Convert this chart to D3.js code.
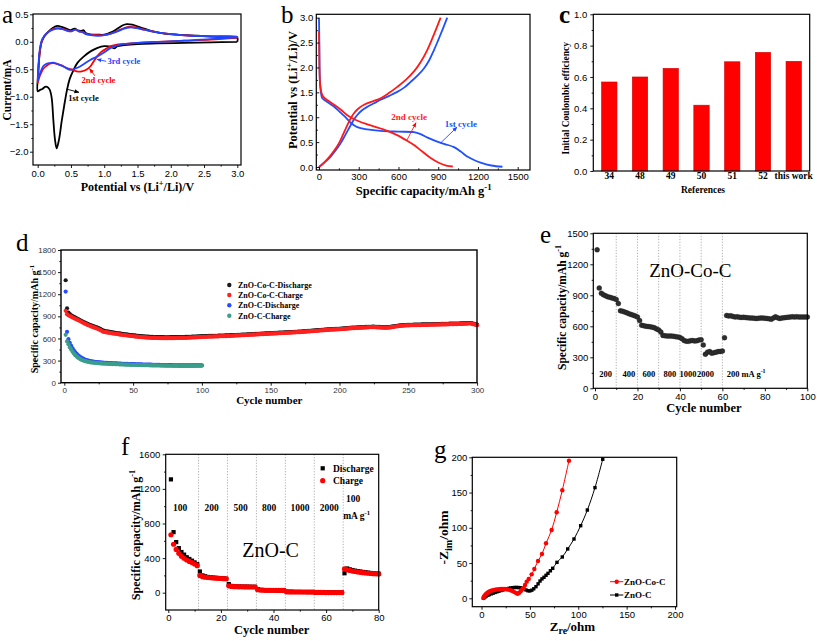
<!DOCTYPE html>
<html><head><meta charset="utf-8">
<script src="https://cdn.jsdelivr.net/npm/d3@7"></script>
<style>body{margin:0;background:#fff}svg{display:block}</style>
</head><body>
<script>
// ---------------- DATA ----------------
// (a) CV curves: [potential V, current mA]
const cvCycle1 = [[3.0,0.0],[2.6,-0.01],[2.2,-0.02],[1.8,-0.03],[1.5,-0.04],[1.3,-0.06],[1.2,-0.08],[1.15,-0.12],[1.1,-0.09],[1.0,-0.08],[0.9,-0.11],[0.8,-0.17],[0.69,-0.27],[0.6,-0.38],[0.54,-0.51],[0.48,-0.68],[0.44,-0.88],[0.4,-1.15],[0.36,-1.45],[0.32,-1.78],[0.285,-1.94],[0.26,-1.78],[0.235,-1.42],[0.21,-1.02],[0.18,-0.87],[0.14,-0.82],[0.11,-0.82],[0.07,-0.86],[0.03,-0.88],[0.0,-0.9],[0.01,-0.55],[0.03,-0.2],[0.06,0.0],[0.1,0.1],[0.15,0.17],[0.2,0.23],[0.25,0.27],[0.3,0.29],[0.36,0.27],[0.43,0.24],[0.49,0.21],[0.53,0.23],[0.56,0.24],[0.6,0.21],[0.65,0.2],[0.69,0.21],[0.72,0.16],[0.8,0.13],[0.9,0.13],[1.0,0.13],[1.1,0.17],[1.2,0.24],[1.28,0.3],[1.34,0.32],[1.42,0.31],[1.55,0.26],[1.7,0.2],[1.9,0.15],[2.1,0.13],[2.4,0.11],[2.7,0.09],[3.0,0.07],[3.0,0.0]];
const cvCycle2 = [[3.0,0.07],[2.6,0.04],[2.2,0.02],[1.8,0.0],[1.5,-0.02],[1.3,-0.04],[1.19,-0.05],[1.1,-0.08],[1.04,-0.12],[0.96,-0.18],[0.89,-0.27],[0.84,-0.36],[0.79,-0.45],[0.73,-0.51],[0.66,-0.54],[0.59,-0.54],[0.52,-0.51],[0.44,-0.48],[0.36,-0.43],[0.29,-0.4],[0.23,-0.39],[0.18,-0.4],[0.13,-0.44],[0.085,-0.49],[0.05,-0.57],[0.02,-0.66],[0.0,-0.75],[0.01,-0.5],[0.03,-0.2],[0.06,0.0],[0.1,0.1],[0.16,0.18],[0.23,0.23],[0.3,0.25],[0.36,0.24],[0.44,0.21],[0.5,0.19],[0.54,0.21],[0.57,0.22],[0.62,0.19],[0.68,0.18],[0.72,0.15],[0.8,0.13],[0.9,0.12],[1.0,0.12],[1.1,0.15],[1.2,0.2],[1.3,0.25],[1.38,0.27],[1.48,0.26],[1.6,0.22],[1.8,0.17],[2.0,0.14],[2.3,0.11],[2.6,0.1],[3.0,0.08],[3.0,0.07]];
const cvCycle3 = [[3.0,0.08],[2.6,0.05],[2.2,0.02],[1.8,0.0],[1.5,-0.02],[1.3,-0.04],[1.19,-0.07],[1.1,-0.11],[0.99,-0.2],[0.89,-0.27],[0.79,-0.33],[0.7,-0.4],[0.636,-0.45],[0.56,-0.49],[0.49,-0.51],[0.43,-0.48],[0.385,-0.45],[0.31,-0.41],[0.235,-0.38],[0.17,-0.39],[0.12,-0.41],[0.085,-0.44],[0.05,-0.53],[0.02,-0.63],[0.0,-0.72],[0.01,-0.45],[0.03,-0.15],[0.06,0.02],[0.1,0.11],[0.16,0.18],[0.23,0.22],[0.3,0.24],[0.37,0.23],[0.44,0.2],[0.5,0.19],[0.54,0.21],[0.57,0.22],[0.62,0.19],[0.68,0.17],[0.72,0.14],[0.8,0.12],[0.9,0.11],[1.0,0.12],[1.1,0.15],[1.2,0.19],[1.3,0.24],[1.38,0.26],[1.48,0.25],[1.6,0.22],[1.8,0.17],[2.0,0.14],[2.3,0.11],[2.6,0.1],[3.0,0.09],[3.0,0.08]];

// (b) charge/discharge profiles: [capacity mAh/g, potential V]
const gc1Discharge = [[0,3.0],[2,2.6],[4,2.0],[7,1.72],[11,1.58],[16,1.47],[23,1.39],[60,1.31],[110,1.22],[160,1.1],[200,1.0],[239,0.89],[289,0.8],[365,0.755],[465,0.725],[600,0.71],[717,0.7],[767,0.66],[820,0.59],[893,0.51],[950,0.46],[1019,0.4],[1070,0.31],[1119,0.21],[1170,0.14],[1220,0.087],[1300,0.03],[1385,0.005]];
const gc1Charge = [[0,0],[40,0.09],[88,0.21],[125,0.33],[164,0.48],[200,0.65],[239,0.84],[265,0.96],[289,1.045],[325,1.14],[365,1.21],[415,1.28],[465,1.35],[530,1.43],[591,1.51],[645,1.6],[692,1.71],[745,1.84],[792,1.98],[833,2.15],[868,2.35],[900,2.55],[931,2.75],[968,3.0]];
const gc2Discharge = [[0,2.73],[2,2.4],[4,1.95],[7,1.72],[11,1.6],[18,1.5],[30,1.42],[70,1.33],[120,1.24],[170,1.14],[214,1.04],[250,0.98],[300,0.92],[350,0.87],[420,0.81],[480,0.76],[530,0.71],[590,0.64],[650,0.55],[717,0.44],[780,0.31],[843,0.18],[900,0.09],[960,0.03],[1010,0.01]];
const gc2Charge = [[0,0],[38,0.09],[80,0.21],[115,0.33],[151,0.48],[183,0.66],[214,0.84],[240,0.98],[264,1.08],[300,1.18],[340,1.25],[400,1.315],[465,1.38],[530,1.49],[591,1.61],[655,1.75],[717,1.92],[770,2.12],[817,2.35],[850,2.55],[881,2.75],[918,3.0]];

// (c) initial coulombic efficiency
const refLabels = ['34','48','49','50','51','52','this work'];
const iceValues = [0.568,0.60,0.655,0.42,0.697,0.757,0.70];

// (d) cycling, cycles 1..300 (ZnO-Co-C) and 1..100 (ZnO-C)
const coDischarge = [1390,1010,950,930,915,903,892,882,872,863,
853,843,833,823,814,805,797,789,781,774,
767,760,753,746,739,731,721,710,702,698,
695,692,689,686,683,680,677,674,671,668,
665,662,660,657,655,652,650,647,645,643,
641,639,637,635,633,631,629,628,626,625,
624,623,622,621,620,619,619,618,618,617,
617,617,616,616,616,616,617,617,617,617,
618,618,618,619,619,620,620,621,621,622,
622,623,624,625,626,627,628,629,630,631,
631,632,632,633,634,634,635,636,636,637,
637,638,638,639,640,640,641,642,642,643,
644,645,646,646,647,648,649,650,651,652,
653,654,655,656,657,658,659,660,661,662,
663,664,665,666,667,668,669,670,671,672,
673,674,675,676,677,678,679,680,681,682,
683,684,685,686,687,688,689,690,691,692,
693,694,696,697,699,700,702,703,705,706,
708,709,711,712,714,715,717,718,720,721,
723,724,725,726,727,728,729,730,731,732,
734,735,737,738,740,741,743,744,746,747,
748,749,750,751,752,753,754,755,756,757,
758,759,759,760,760,759,758,757,756,755,
754,753,752,752,753,755,757,760,763,766,
769,772,775,777,779,781,782,783,784,785,
785,786,786,787,787,788,788,789,789,790,
790,791,791,792,792,793,793,794,794,795,
795,796,796,797,797,798,798,799,799,800,
800,801,801,802,802,803,803,804,805,806,
807,808,809,810,810,807,802,797,792,787];
const coCharge = [975,930,915,905,895,885,876,867,858,850,
840,830,820,810,800,792,784,776,768,760,
753,746,739,732,725,716,705,694,688,685,
682,679,676,673,670,667,664,661,658,655,
652,650,647,645,642,640,637,635,632,630,
628,626,624,622,620,618,617,615,614,612,
611,610,609,608,608,607,606,606,605,605,
605,604,604,604,604,605,605,605,605,605,
606,606,606,607,607,608,608,609,609,610,
611,612,613,614,615,616,617,618,619,620,
621,622,622,623,624,625,625,626,627,628,
628,629,630,630,631,632,632,633,634,635,
636,637,638,639,640,641,642,643,644,645,
646,647,648,649,650,651,652,653,654,655,
656,657,658,659,660,661,662,663,664,665,
666,667,668,669,670,671,672,673,674,675,
676,677,678,679,680,681,682,683,684,685,
686,687,689,690,692,693,695,696,698,699,
701,702,704,705,707,708,710,711,713,714,
716,717,718,719,720,721,722,723,724,725,
727,728,730,731,733,734,736,737,739,740,
741,742,743,744,745,746,747,748,749,750,
751,752,752,753,753,752,751,750,749,748,
747,746,745,745,746,748,750,753,756,759,
762,765,768,770,772,774,775,776,777,778,
778,779,779,780,780,781,781,782,782,783,
783,784,784,785,785,786,786,787,787,788,
788,789,789,790,790,791,791,792,792,793,
793,794,794,795,795,796,796,797,798,799,
800,801,802,803,803,800,795,790,785,780];
const cDischarge = [1236,690,590,540,500,465,435,410,390,372,
357,344,333,323,315,308,302,297,293,289,
286,283,281,279,277,275,273,272,270,269,
268,267,266,265,264,263,262,261,260,259,
258,257,256,256,255,254,253,253,252,251,
251,250,249,249,248,248,247,246,246,245,
245,244,244,243,243,242,242,241,241,240,
240,240,239,239,239,238,238,238,237,237,
237,237,236,236,236,236,236,235,235,235,
235,235,235,235,235,235,235,235,236,236];
const cCharge = [650,560,520,480,450,420,395,373,355,340,
327,316,307,300,293,288,284,280,277,274,
272,270,268,266,264,263,261,260,259,258,
257,256,255,254,253,252,251,250,250,249,
248,247,247,246,245,245,244,243,243,242,
242,241,241,240,240,239,239,238,238,237,
237,236,236,235,235,234,234,233,233,232,
232,232,231,231,231,230,230,230,229,229,
229,229,228,228,228,228,228,228,228,228,
228,229,229,229,229,230,230,230,231,231];

// (e) rate capability ZnO-Co-C, cycles 1..100
const rateCo = [1340,970,920,905,895,885,880,875,868,860,
820,750,745,738,730,722,715,708,700,690,
655,610,605,600,598,595,592,585,575,565,
545,512,508,505,505,505,503,500,497,492,
480,462,455,455,460,462,458,460,468,470,
420,330,350,355,340,345,350,355,357,360,
490,705,700,702,695,690,692,688,686,688,
684,682,680,680,678,676,678,680,680,678,
676,672,668,680,692,682,676,680,682,686,
688,690,692,690,692,690,690,690,690,690];
const rateCoDividers = [10,20,30,40,50,60];
const rateCoLabels = [['200',5.0],['400',16.0],['600',25.4],['800',35.3],['1000',43.8],['2000',52.1]];

// (f) rate capability ZnO-C, cycles 1..80
const rateCDischarge = [1310,700,585,515,470,440,410,390,370,350,330,
245,200,190,182,178,175,172,170,168,165,162,
100,78,74,72,71,70,70,69,69,68,68,
42,33,31,30,29,29,28,28,28,27,27,
12,10,10,9,9,9,8,8,8,8,8,
4,3,3,3,3,3,3,3,3,3,3,
225,280,270,262,255,250,245,240,236,232,228,225,222,220];
const rateCCharge = [670,560,500,455,420,398,378,362,348,332,312,
200,185,180,176,173,170,168,166,164,162,160,
80,72,70,70,68,68,67,67,66,66,66,
35,30,29,28,28,27,27,27,26,26,26,
10,9,9,8,8,8,8,8,7,7,7,
3,3,3,3,2,2,2,2,2,2,2,
275,265,258,250,245,240,236,232,228,225,222,220,218,215];
const rateCDividers = [11.5,22.5,33.5,44.5,55.5,66.5];
const rateCLabels = [['100',4.45],['200',16.5],['500',27.5],['800',38.3],['1000',50.1],['2000',61.2]];

// (g) Nyquist plots: [Zre, -Zim]
const eisCo = [[2,0.5],[2.5,2],[3,3.5],[4,5],[5,6.5],[6,7.5],[7,8.5],[8,9.3],[9,10],[10,10.7],[11.5,11.3],[13,11.8],[14.5,12.3],[16,12.6],[18,12.9],[20,13.1],[22,13.2],[24,13.1],[26,12.8],[28,12.3],[30,11.5],[32,10.3],[34,8.8],[36,7.3],[37.5,6.5],[39,7.8],[40.5,10],[42,12.5],[43.3,14.2],[45,18.9],[46.7,23.6],[48.8,27.4],[51.9,34],[54.6,41.6],[58.4,52.9],[62.5,62.8],[66.7,78],[72.5,96.9],[77.7,122],[83.5,153.2],[90.4,195.2]];
const eisC = [[2,0],[3,1.2],[4,2.3],[5,3.3],[6.5,4.3],[8,5.2],[10,6.3],[12,7.3],[14,8.3],[16,9.2],[18,10.1],[20,11],[22,11.8],[24,12.6],[26,13.3],[28,14],[30,14.6],[32,15],[34,15.3],[36,15.4],[38,15.3],[40,15],[42,14.3],[44,13.2],[46,11.8],[48,10.7],[50,10.5],[52,11.5],[54,13.5],[56.3,16.5],[58.5,20.5],[60.5,24.5],[62.5,27.5],[64.6,29.8],[66.7,32.6],[68.7,35.4],[71.2,39],[73.6,42.5],[78,51],[83.5,58.6],[89.1,70],[95.6,84.1],[102.5,103],[109.4,125.2],[117.3,157],[125.3,197.2]];

// ---------------- DRAWING ----------------
const SERIF = "'Liberation Serif','Times New Roman',serif";
const SANS = "'Liberation Sans',Arial,sans-serif";
const svg = d3.select('body').append('svg').attr('width',817).attr('height',641);
const defs = svg.append('defs');
function arrowMarker(id,color){
  defs.append('marker').attr('id',id).attr('viewBox','0 0 10 10').attr('refX',9).attr('refY',5)
    .attr('markerUnits','userSpaceOnUse').attr('markerWidth',5).attr('markerHeight',5).attr('orient','auto')
    .append('path').attr('d','M0,1L10,5L0,9Z').attr('fill',color);
}
arrowMarker('arK','#000');arrowMarker('arR','#f00');arrowMarker('arB','#2244ff');

function frame(g,L,R,T,B,sw){
  g.append('rect').attr('x',L).attr('y',T).attr('width',R-L).attr('height',B-T)
    .attr('fill','none').attr('stroke','#000').attr('stroke-width',sw||1.2);
}
function styleAxis(ga,o,isX){
  ga.select('.domain').remove();
  ga.selectAll('line').attr('stroke','#000').attr('stroke-width',0.9);
  ga.selectAll('text').attr('font-family',(isX&&o.xfont)||SANS).attr('font-size',(isX&&o.xfs)||o.fs||9.5)
    .attr('font-weight',(isX&&o.xw)||'normal').attr('fill',o.col||'#000');
}
function axes(g,o){
  const dir=o.dir, tl=o.tl||3.5, xtl=(o.xtl!==undefined?o.xtl:tl);
  if(o.xt){
    const a=d3.axisBottom(o.x).tickValues(o.xt).tickSizeInner(dir*xtl).tickSizeOuter(0).tickPadding(o.px||3).tickFormat(o.fx||(d=>d));
    styleAxis(g.append('g').attr('transform',`translate(0,${o.B})`).call(a),o,true);
  }
  if(o.xm){
    const a=d3.axisBottom(o.x).tickValues(o.xm).tickSizeInner(dir*tl*0.55).tickSizeOuter(0).tickFormat(()=> '');
    styleAxis(g.append('g').attr('transform',`translate(0,${o.B})`).call(a),o,true);
  }
  if(o.yt){
    const a=d3.axisLeft(o.y).tickValues(o.yt).tickSizeInner(dir*tl).tickSizeOuter(0).tickPadding(o.py||3).tickFormat(o.fy||(d=>d));
    styleAxis(g.append('g').attr('transform',`translate(${o.L},0)`).call(a),o,false);
  }
  if(o.ym){
    const a=d3.axisLeft(o.y).tickValues(o.ym).tickSizeInner(dir*tl*0.55).tickSizeOuter(0).tickFormat(()=> '');
    styleAxis(g.append('g').attr('transform',`translate(${o.L},0)`).call(a),o,false);
  }
  frame(g,o.L,o.R,o.T,o.B,o.sw);
}
// text with sup/sub parts (shift restored on the following part)
function richText(sel,parts,fs){
  let pending=0;
  parts.forEach(p=>{
    const t=typeof p==='string'?[p,null]:p;
    const sp=sel.append('tspan').text(t[0]);
    let shift=0;
    if(t[1]==='sup'){ shift=-fs*0.4; sp.attr('font-size',fs*0.7); }
    else if(t[1]==='sub'){ shift=fs*0.3; sp.attr('font-size',fs*0.75); }
    const dy=pending+shift;
    if(dy!==0) sp.attr('dy',dy);
    pending=-shift;
  });
}
function hLabel(g,x,y,parts,fs,opt={}){
  const t=g.append('text').attr('x',x).attr('y',y).attr('text-anchor',opt.anchor||'middle')
    .attr('font-family',opt.font||SERIF).attr('font-weight',opt.weight||'bold').attr('font-size',fs).attr('fill',opt.fill||'#000');
  richText(t,parts,fs); return t;
}
function vLabel(g,x,y,parts,fs,opt={}){
  const t=g.append('text').attr('transform',`translate(${x},${y}) rotate(-90)`).attr('text-anchor','middle')
    .attr('font-family',opt.font||SERIF).attr('font-weight',opt.weight||'bold').attr('font-size',fs).attr('fill','#000');
  richText(t,parts,fs); return t;
}
function panelLetter(x,y,s,w){
  svg.append('text').attr('x',x).attr('y',y).attr('font-family',SERIF).attr('font-size',25).attr('font-weight',w||'normal').text(s);
}
const capLabel = ['Specific capacity/mAh g',['-1','sup']];
const range=(a,b,s)=>d3.range(a,b+s/2,s);

// ---- (a)
{
  const g=svg.append('g');
  const x=d3.scaleLinear([0,3],[37.7,237.3]), y=d3.scaleLinear([-2,0.5],[151.7,14.3]);
  const line=d3.line().x(d=>x(d[0])).y(d=>y(d[1])).curve(d3.curveCatmullRom.alpha(0.5));
  [[cvCycle1,'#000'],[cvCycle2,'#ff0000'],[cvCycle3,'#2244ff']].forEach(([d,c])=>{
    g.append('path').attr('d',line(d)).attr('fill','none').attr('stroke',c).attr('stroke-width',1.8);
  });
  axes(g,{x,y,L:33,R:241,T:14,B:165,dir:1,tl:3,xt:range(0,3,0.5),xm:range(0.25,2.75,0.5),yt:range(-2,0.5,0.5),ym:range(-1.75,0.25,0.5),fx:d3.format('.1f'),fy:d3.format('.1f'),fs:9.5,px:2.5,py:1.5});
  const ann=[['3rd cycle','#2244ff','arB',[1.05,-0.41],[1.03,-0.355],[0.89,-0.32]],
             ['2nd cycle','#ff0000','arR',[0.66,-0.75],[0.86,-0.62],[0.78,-0.49]],
             ['1st cycle','#000','arK',[0.46,-1.08],[0.43,-0.86],[0.62,-0.92]]];
  ann.forEach(([t,c,m,tp,a0,a1])=>{
    g.append('line').attr('x1',x(a0[0])).attr('y1',y(a0[1])).attr('x2',x(a1[0])).attr('y2',y(a1[1])).attr('stroke',c).attr('stroke-width',0.9).attr('marker-end',`url(#${m})`);
    g.append('text').attr('x',x(tp[0])).attr('y',y(tp[1])).attr('font-family',SERIF).attr('font-weight','bold').attr('font-size',8.5).attr('fill',c).text(t);
  });
  vLabel(g,10.5,90,['Current/mA'],11.5);
  hLabel(g,137.5,191,['Potential vs (Li',['+','sup'],'/Li)/V'],12);
  panelLetter(2,23,'a');
}
// ---- (b)
{
  const g=svg.append('g');
  const x=d3.scaleLinear([0,1500],[319,517.7]), y=d3.scaleLinear([0,3],[167,17.7]);
  const line=d3.line().x(d=>x(d[0])).y(d=>y(d[1])).curve(d3.curveCatmullRom.alpha(0.5));
  [[gc1Discharge,'#2050ff'],[gc1Charge,'#2050ff'],[gc2Discharge,'#ff1a1a'],[gc2Charge,'#ff1a1a']].forEach(([d,c])=>{
    g.append('path').attr('d',line(d)).attr('fill','none').attr('stroke',c).attr('stroke-width',1.8);
  });
  axes(g,{x,y,L:316.3,R:530,T:14.3,B:170,dir:-1,tl:3,xt:range(0,1500,300),xm:range(150,1650,300).filter(v=>v<1600),yt:range(0,3,0.5),ym:range(0.25,2.75,0.5),fy:d3.format('.1f'),fs:9.5,px:3,py:3});
  g.append('line').attr('x1',x(915)).attr('y1',y(0.476)).attr('x2',x(1042)).attr('y2',y(0.80)).attr('stroke','#2050ff').attr('stroke-width',0.9).attr('marker-end','url(#arB)');
  g.append('line').attr('x1',x(664)).attr('y1',y(0.54)).attr('x2',x(732)).attr('y2',y(0.89)).attr('stroke','#ff1a1a').attr('stroke-width',0.9).attr('marker-end','url(#arR)');
  g.append('text').attr('x',x(546)).attr('y',y(0.944)).attr('font-family',SERIF).attr('font-weight','bold').attr('font-size',9).attr('fill','#ff1a1a').text('2nd cycle');
  g.append('text').attr('x',x(949)).attr('y',y(0.81)).attr('font-family',SERIF).attr('font-weight','bold').attr('font-size',9).attr('fill','#2050ff').text('1st cycle');
  vLabel(g,296.5,90,['Potential vs (Li',['+','sup'],'/Li)/V'],12.5);
  hLabel(g,423.7,194.5,capLabel,12.5);
  panelLetter(281,23,'b');
}
// ---- (c)
{
  const g=svg.append('g');
  const x=d3.scaleBand(refLabels,[593.3,809.7]).paddingInner(0.5).paddingOuter(0.27);
  const y=d3.scaleLinear([0,1],[171,14.3]);
  g.selectAll('rect.bar').data(iceValues).join('rect').attr('class','bar')
    .attr('x',(d,i)=>x(refLabels[i])).attr('width',x.bandwidth())
    .attr('y',d=>y(d)).attr('height',d=>y(0)-y(d)).attr('fill','#ff0000').attr('stroke','#d00000').attr('stroke-width',0.6);
  axes(g,{x,y,L:593.3,R:809.7,T:14.3,B:171,dir:1,tl:3,xtl:0,xt:refLabels,yt:range(0,1,0.2),ym:range(0.1,0.9,0.2),fy:d3.format('.1f'),fs:9.5,px:1.5,py:3,xfont:SERIF,xw:'bold',xfs:9.5});
  vLabel(g,568.5,98.3,['Initial Coulombic efficiency'],9.5);
  hLabel(g,703,193,['References'],9.5);
  panelLetter(559,23,'c','bold');
}
// ---- (d)
{
  const g=svg.append('g');
  const x=d3.scaleLinear([0,300],[64.3,477.1]), y=d3.scaleLinear([0,1800],[382.7,250]);
  const series=[[coDischarge,'#1a1a1a'],[coCharge,'#ff2020'],[cDischarge,'#2a4cff'],[cCharge,'#3a9e8a']];
  series.forEach(([d,c])=>{
    g.append('g').selectAll('circle').data(d).join('circle')
      .attr('cx',(v,i)=>x(i+1)).attr('cy',v=>y(v)).attr('r',2.1).attr('fill',c);
  });
  axes(g,{x,y,L:61,R:477,T:250,B:382.7,dir:1,tl:3,xt:range(0,300,50),xm:range(25,275,50),yt:range(0,1800,300),ym:range(150,1650,300),fs:8,col:'#333',px:1.5,py:2,sw:1.4});
  const names=['ZnO-Co-C-Discharge','ZnO-Co-C-Charge','ZnO-C-Discharge','ZnO-C-Charge'];
  const ly=[285,295,305.3,315.7];
  names.forEach((n,i)=>{
    g.append('circle').attr('cx',229.3).attr('cy',ly[i]).attr('r',2.2).attr('fill',series[i][1]);
    g.append('text').attr('x',238).attr('y',ly[i]).attr('dy','0.35em').attr('font-family',SERIF).attr('font-weight','bold').attr('font-size',8).text(n);
  });
  vLabel(g,38,319,capLabel,10);
  hLabel(g,269.3,403.5,['Cycle number'],11);
  panelLetter(16,251,'d');
}
// ---- (e)
{
  const g=svg.append('g');
  const x=d3.scaleLinear([0,100],[595,807.3]), y=d3.scaleLinear([0,1500],[388.3,233.3]);
  g.selectAll('line.div').data(rateCoDividers).join('line').attr('class','div')
    .attr('x1',d=>x(d)).attr('x2',d=>x(d)).attr('y1',233.3).attr('y2',388.3)
    .attr('stroke','#999').attr('stroke-width',0.8).attr('stroke-dasharray','1.2,1.6');
  g.append('g').selectAll('circle').data(rateCo).join('circle')
    .attr('cx',(v,i)=>x(i+1)).attr('cy',v=>y(v)).attr('r',2.5).attr('fill','#2e2e2e').attr('stroke','#111').attr('stroke-width',0.3);
  axes(g,{x,y,L:593.3,R:807.3,T:233.3,B:388.3,dir:1,tl:3,xt:range(0,100,20),xm:range(10,90,20),yt:range(0,1500,300),ym:range(150,1350,300),fs:9.5,px:1.5,py:2});
  rateCoLabels.forEach(([t,c])=>{
    g.append('text').attr('x',x(c)).attr('y',y(112)).attr('text-anchor','middle').attr('font-family',SERIF).attr('font-weight','bold').attr('font-size',8.5).text(t);
  });
  hLabel(g,x(62),y(112),['200 mA g',['-1','sup']],8.5,{anchor:'start'});
  g.append('text').attr('x',x(44.9)).attr('y',y(1080)).attr('text-anchor','middle').attr('font-family',SERIF).attr('font-size',19).text('ZnO-Co-C');
  vLabel(g,565.5,307.5,capLabel,11.5);
  hLabel(g,704,412,['Cycle number'],12.5);
  panelLetter(540,243,'e');
}
// ---- (f)
{
  const g=svg.append('g');
  const x=d3.scaleLinear([0,80],[168.3,378.7]), y=d3.scaleLinear([0,1600],[592.7,454.3]);
  g.selectAll('line.div').data(rateCDividers).join('line').attr('class','div')
    .attr('x1',d=>x(d)).attr('x2',d=>x(d)).attr('y1',454.3).attr('y2',610)
    .attr('stroke','#999').attr('stroke-width',0.8).attr('stroke-dasharray','1.2,1.6');
  const s=4.2;
  g.append('g').selectAll('rect').data(rateCDischarge).join('rect')
    .attr('x',(v,i)=>x(i+1)-s/2).attr('y',v=>y(v)-s/2).attr('width',s).attr('height',s).attr('fill','#000');
  g.append('g').selectAll('circle').data(rateCCharge).join('circle')
    .attr('cx',(v,i)=>x(i+1)).attr('cy',v=>y(v)).attr('r',2.6).attr('fill','#ff0000');
  axes(g,{x,y,L:165.7,R:378.7,T:454.3,B:610,dir:1,tl:3,xt:range(0,80,20),xm:range(10,70,20),yt:range(0,1600,400),ym:range(200,1400,400),fs:9.5,px:1.5,py:2.5});
  rateCLabels.forEach(([t,c])=>{
    g.append('text').attr('x',x(c)).attr('y',y(939)).attr('text-anchor','middle').attr('font-family',SERIF).attr('font-weight','bold').attr('font-size',9.5).text(t);
  });
  g.append('text').attr('x',x(70.3)).attr('y',y(1054)).attr('text-anchor','middle').attr('font-family',SERIF).attr('font-weight','bold').attr('font-size',9.5).text('100');
  hLabel(g,x(66.5),y(852),['mA g',['-1','sup']],9.5,{anchor:'start'});
  g.append('text').attr('x',x(38.9)).attr('y',y(416)).attr('text-anchor','middle').attr('font-family',SERIF).attr('font-size',20).text('ZnO-C');
  g.append('rect').attr('x',320.6).attr('y',466.2).attr('width',s).attr('height',s).attr('fill','#000');
  g.append('circle').attr('cx',322.7).attr('cy',480.7).attr('r',2.6).attr('fill','#ff0000');
  g.append('text').attr('x',333).attr('y',468.3).attr('dy','0.35em').attr('font-family',SERIF).attr('font-weight','bold').attr('font-size',9.5).text('Discharge');
  g.append('text').attr('x',333).attr('y',480.7).attr('dy','0.35em').attr('font-family',SERIF).attr('font-weight','bold').attr('font-size',9.5).text('Charge');
  vLabel(g,139.5,535,capLabel,12);
  hLabel(g,271.7,634,['Cycle number'],12.5);
  panelLetter(121,455,'f');
}
// ---- (g)
{
  const g=svg.append('g');
  const x=d3.scaleLinear([0,200],[481.5,675]), y=d3.scaleLinear([0,200],[598.3,457.3]);
  const line=d3.line().x(d=>x(d[0])).y(d=>y(d[1])).curve(d3.curveCatmullRom.alpha(0.5));
  g.append('path').attr('d',line(eisC)).attr('fill','none').attr('stroke','#000').attr('stroke-width',1);
  const q=3.4;
  g.append('g').selectAll('rect').data(eisC).join('rect')
    .attr('x',d=>x(d[0])-q/2).attr('y',d=>y(d[1])-q/2).attr('width',q).attr('height',q).attr('fill','#000');
  g.append('path').attr('d',line(eisCo)).attr('fill','none').attr('stroke','#ff0000').attr('stroke-width',1);
  g.append('g').selectAll('circle').data(eisCo).join('circle')
    .attr('cx',d=>x(d[0])).attr('cy',d=>y(d[1])).attr('r',2.2).attr('fill','#ff0000');
  axes(g,{x,y,L:472.3,R:676.7,T:457.3,B:606.7,dir:1,tl:3,xt:range(0,200,50),xm:range(25,175,50),yt:range(0,200,50),ym:range(25,175,50),fs:9.5,px:1.5,py:2});
  // legend
  g.append('line').attr('x1',610).attr('x2',623.3).attr('y1',581.7).attr('y2',581.7).attr('stroke','#ff0000').attr('stroke-width',1);
  g.append('circle').attr('cx',616.7).attr('cy',581.7).attr('r',2.2).attr('fill','#ff0000');
  g.append('line').attr('x1',610).attr('x2',623.3).attr('y1',595).attr('y2',595).attr('stroke','#000').attr('stroke-width',1);
  g.append('rect').attr('x',616.7-q/2).attr('y',595-q/2).attr('width',q).attr('height',q).attr('fill','#000');
  g.append('text').attr('x',624).attr('y',581.7).attr('dy','0.35em').attr('font-family',SERIF).attr('font-weight','bold').attr('font-size',9).text('ZnO-Co-C');
  g.append('text').attr('x',624).attr('y',595).attr('dy','0.35em').attr('font-family',SERIF).attr('font-weight','bold').attr('font-size',9).text('ZnO-C');
  vLabel(g,448,537.5,['-Z',['im','sub'],'/ohm'],13.5);
  hLabel(g,572.5,630.5,['Z',['re','sub'],'/ohm'],13);
  panelLetter(434,458,'g');
}
</script>
</body></html>
